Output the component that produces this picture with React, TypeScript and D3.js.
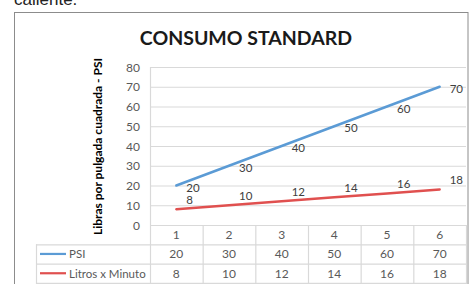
import React from "react";
import * as d3 from "d3";

const categories = ["1", "2", "3", "4", "5", "6"];
const psi = [20, 30, 40, 50, 60, 70];
const litros = [8, 10, 12, 14, 16, 18];
const yTicks = [0, 10, 20, 30, 40, 50, 60, 70, 80];
const seriesNames = ["PSI", "Litros x Minuto"];
const title = "CONSUMO STANDARD";
const yTitle = "Libras por pulgada cuadrada - PSI";

const W = 471;
const H = 284;
const plotL = 150;
const plotR = 466;
const plotT = 67;
const plotB = 225;
const rowH = 19.3;
const legendL = 36;
const BLUE = "#5B9BD5";
const RED = "#E0504F";
const GRID = "#d9d9d9";
const FONT = "Lato, 'Open Sans', sans-serif";

export default function App() {
  const x = d3.scaleBand<string>().domain(categories).range([plotL, plotR]);
  const y = d3.scaleLinear().domain([0, 80]).range([plotB, plotT]);
  const cx = (i: number) => (x(categories[i]) as number) + x.bandwidth() / 2;
  const line = d3
    .line<number>()
    .x((_, i) => cx(i))
    .y((d) => y(d));
  const series = [
    { name: seriesNames[0], values: psi, color: BLUE, dy: 1.5 },
    { name: seriesNames[1], values: litros, color: RED, dy: -9.5 },
  ];
  const bounds = [plotL, ...categories.map((c) => (x(c) as number) + x.bandwidth())];

  return (
    <svg
      width={W}
      height={H}
      style={{ position: "absolute", left: 0, top: 0 }}
      fontFamily={FONT}
    >
      <rect x={0} y={0} width={W} height={H} fill="#fff" />
      <text x={14} y={5} fontFamily="Arial, 'Liberation Sans', sans-serif" fontSize={17} fill="#222">
        caliente.
      </text>
      <rect x={14.5} y={12.5} width={453.5} height={290} fill="#fff" stroke="#8c8c8c" strokeWidth={1} />
      <text x={246} y={45} textAnchor="middle" fontSize={19.5} fontWeight="bold" fill="#1a1a1a">
        {title}
      </text>
      <text
        transform={`translate(97,${(60 + 233) / 2}) rotate(-90)`}
        textAnchor="middle"
        dominantBaseline="central"
        fontSize={12}
        fontWeight="bold"
        fill="#000"
      >
        {yTitle}
      </text>
      {yTicks.map((t) => (
        <g key={t}>
          {t > 0 && (
            <line x1={plotL} x2={plotR} y1={y(t) + 0.5} y2={y(t) + 0.5} stroke={GRID} strokeWidth={1.2} />
          )}
          <text x={140} y={y(t)} textAnchor="end" dominantBaseline="central" fontSize={12} fill="#595959">
            {t}
          </text>
        </g>
      ))}
      <line x1={plotL + 0.5} x2={plotL + 0.5} y1={plotT} y2={H} stroke={GRID} strokeWidth={1.2} />
      {/* table */}
      <line x1={plotL} x2={plotR} y1={plotB + 0.5} y2={plotB + 0.5} stroke={GRID} strokeWidth={1.2} />
      {[1, 2, 3].map((r) => (
        <line
          key={r}
          x1={legendL}
          x2={plotR}
          y1={plotB + r * rowH + 0.5}
          y2={plotB + r * rowH + 0.5}
          stroke={GRID}
          strokeWidth={1.2}
        />
      ))}
      <line x1={legendL + 0.5} x2={legendL + 0.5} y1={plotB + rowH} y2={H} stroke={GRID} strokeWidth={1.2} />
      {bounds.slice(1).map((b, i) => (
        <line key={i} x1={b + 0.5} x2={b + 0.5} y1={plotB} y2={H} stroke={GRID} strokeWidth={1.2} />
      ))}
      {categories.map((c, i) => (
        <text key={c} x={cx(i)} y={plotB + rowH / 2} textAnchor="middle" dominantBaseline="central" fontSize={12} fill="#595959">
          {c}
        </text>
      ))}
      {series.map((s, r) => (
        <g key={s.name}>
          <line
            x1={legendL + 4}
            x2={legendL + 30}
            y1={plotB + rowH * (r + 1.5)}
            y2={plotB + rowH * (r + 1.5)}
            stroke={s.color}
            strokeWidth={2.2}
          />
          <text x={legendL + 33} y={plotB + rowH * (r + 1.5)} dominantBaseline="central" fontSize={11.5} fill="#595959">
            {s.name}
          </text>
          {s.values.map((v, i) => (
            <text
              key={i}
              x={cx(i)}
              y={plotB + rowH * (r + 1.5)}
              textAnchor="middle"
              dominantBaseline="central"
              fontSize={12}
              fill="#595959"
            >
              {v}
            </text>
          ))}
        </g>
      ))}
      {/* lines */}
      {series.map((s) => (
        <g key={s.name}>
          <path d={line(s.values) as string} fill="none" stroke={s.color} strokeWidth={2.5} strokeLinecap="round" />
          {s.values.map((v, i) => (
            <text
              key={i}
              x={cx(i) + 10}
              y={y(v) + s.dy}
              dominantBaseline="central"
              fontSize={11.5}
              fill="#404040"
            >
              {v}
            </text>
          ))}
        </g>
      ))}
    </svg>
  );
}
